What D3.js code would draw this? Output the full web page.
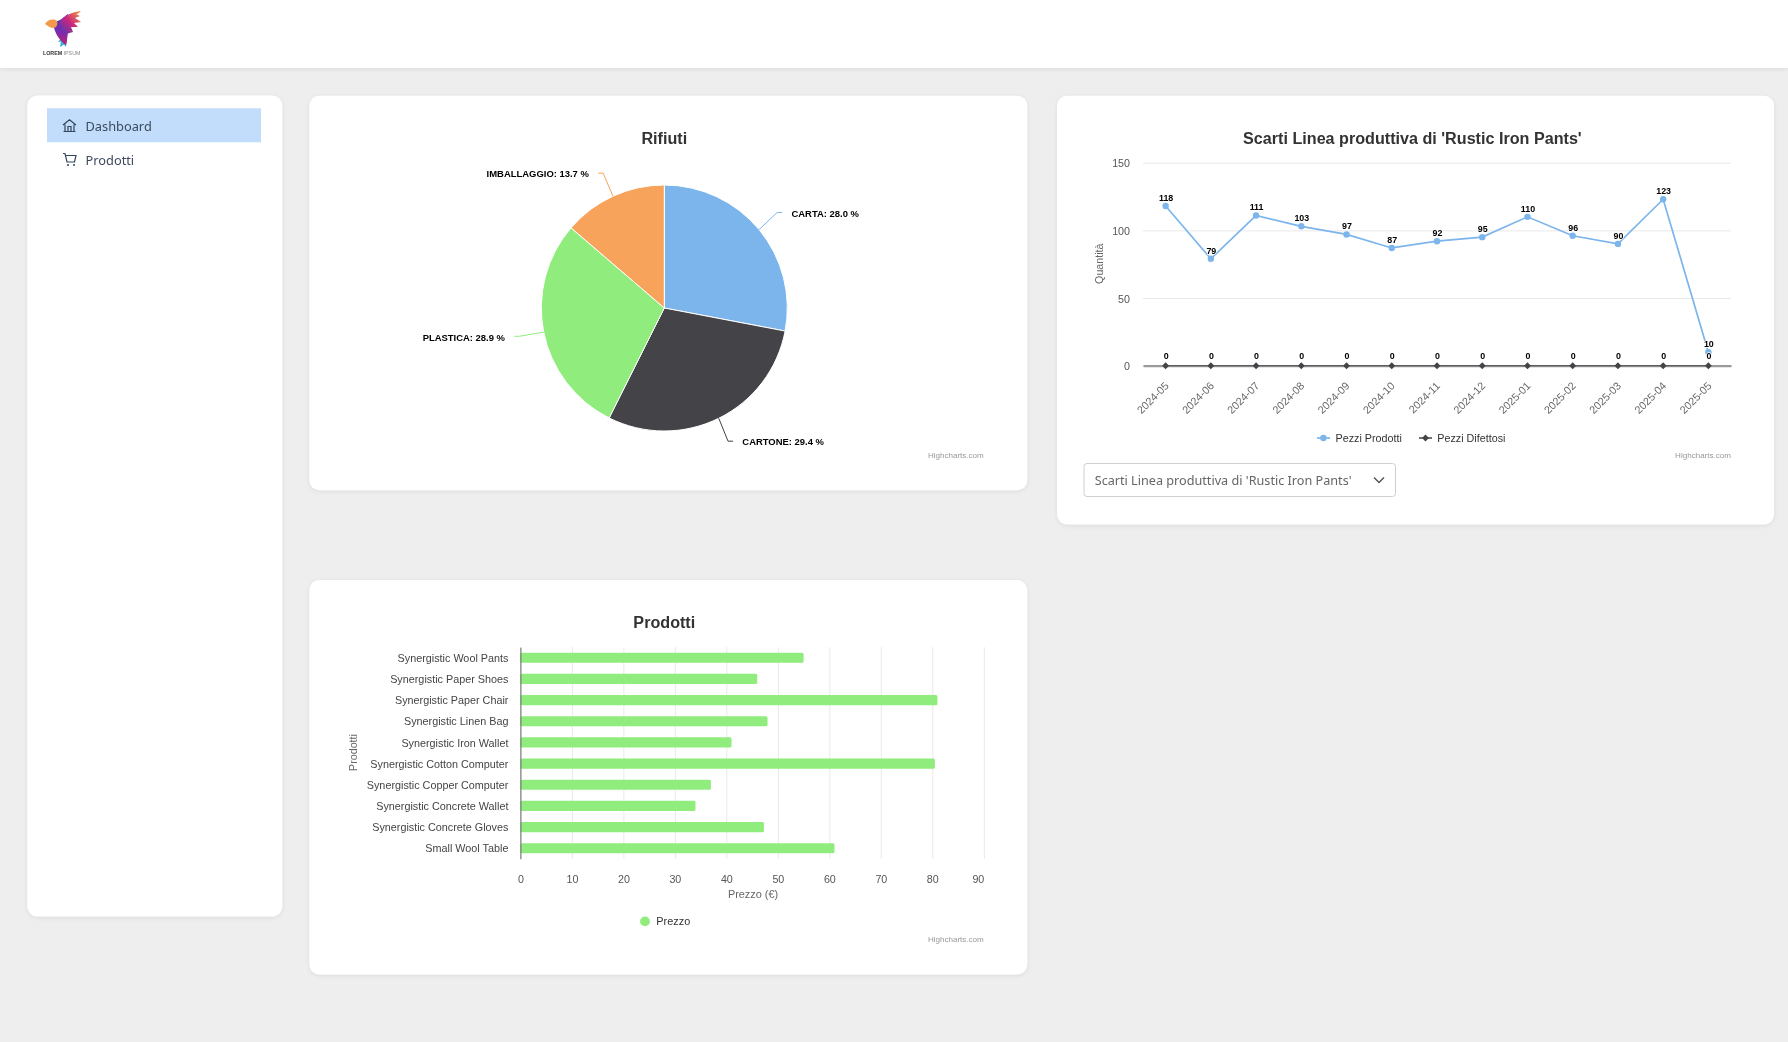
<!DOCTYPE html>
<html><head><meta charset="utf-8">
<script src="https://cdn.jsdelivr.net/npm/d3@7"></script>
<style>
html,body{margin:0;padding:0;background:#eeeeee;overflow:hidden}
svg{display:block;filter:blur(.35px)}
text{font-family:"Liberation Sans",Arial,sans-serif}
.ui{font-family:"Noto Sans",sans-serif}
</style></head><body>
<svg id="c" width="1788" height="1042"></svg>
<script>
// ---- data
const wasteCategories = ["CARTA","CARTONE","PLASTICA","IMBALLAGGIO"];
const wasteValues = [28.0,29.4,28.9,13.7];
const months = ["2024-05","2024-06","2024-07","2024-08","2024-09","2024-10","2024-11","2024-12","2025-01","2025-02","2025-03","2025-04","2025-05"];
const producedPieces = [118,79,111,103,97,87,92,95,110,96,90,123,10];
const defectivePieces = [0,0,0,0,0,0,0,0,0,0,0,0,0];
const quantityTicks = [0,50,100,150];
const products = ["Synergistic Wool Pants","Synergistic Paper Shoes","Synergistic Paper Chair","Synergistic Linen Bag","Synergistic Iron Wallet","Synergistic Cotton Computer","Synergistic Copper Computer","Synergistic Concrete Wallet","Synergistic Concrete Gloves","Small Wool Table"];
const prices = [55,46,81,48,41,80.5,37,34,47.3,61];
const priceTicks = [0,10,20,30,40,50,60,70,80,90];
const highchartsColors = ["#7cb5ec","#434348","#90ed7d","#f7a35c"];

const svg = d3.select("#c");
const defs = svg.append("defs");
const sh = defs.append("filter").attr("id","sh").attr("x","-5%").attr("y","-5%").attr("width","110%").attr("height","110%");
sh.append("feDropShadow").attr("dx",0).attr("dy",1).attr("stdDeviation",2).attr("flood-color","#000").attr("flood-opacity",.08);

function card(x,y,w,h){
  svg.append("rect").attr("x",x).attr("y",y).attr("width",w).attr("height",h).attr("rx",10).attr("fill","#fff").attr("filter","url(#sh)");
}
function credits(x,y){
  svg.append("text").attr("x",x).attr("y",y).attr("dy",".35em").attr("text-anchor","end").attr("font-size",8.05).attr("fill","#999").text("Highcharts.com");
}
function title(x,y,t){
  svg.append("text").attr("x",x).attr("y",y).attr("dy",".35em").attr("text-anchor","middle").attr("font-size",16.15).attr("font-weight","bold").attr("fill","#333").text(t);
}

// ---- page chrome
svg.append("rect").attr("width",1788).attr("height",68).attr("fill","#fff").attr("filter","url(#sh)");
const g1 = defs.append("linearGradient").attr("id","lg1").attr("x1",0).attr("y1",1).attr("x2",1).attr("y2",0);
g1.append("stop").attr("offset",0).attr("stop-color","#3a3fb8");
g1.append("stop").attr("offset",.5).attr("stop-color","#c9267f");
g1.append("stop").attr("offset",1).attr("stop-color","#f39a3c");
const g2 = defs.append("linearGradient").attr("id","lg2").attr("x1",0).attr("y1",0).attr("x2",0).attr("y2",1);
g2.append("stop").attr("offset",0).attr("stop-color","#4a35b8");
g2.append("stop").attr("offset",.6).attr("stop-color","#7b2bb0");
g2.append("stop").attr("offset",1).attr("stop-color","#c0206f");
const logo = svg.append("g");
logo.append("path").attr("fill","#2fb0dd").attr("d","M62,37 L58,42 L61,41.5 L60,47 L64,44.5 L66,47 L67,38 Z");
logo.append("path").attr("fill","url(#lg2)").attr("d","M54,21 C60,22 62,18 68,14 L68,33 C67,38 67,42 66,45 C61,42 56,35 54,28Z");
logo.append("path").attr("fill","url(#lg1)").attr("d","M59,23 C64,15 72,12 81,11 C79,13 78,14 76,14 L80,16 L75,18 L81,22 L74,23 L78,27 L71,27 L73,32 L66,34 Z");
logo.append("path").attr("fill","#f2994a").attr("d","M45,24 C47,20 53,18 57,21 C58,24 57,27 54,28 C50,28 48,26 45,24Z");
logo.append("text").attr("x",43).attr("y",55).attr("font-size",5.3).attr("fill","#333").attr("font-weight","bold").text("LOREM")
  .append("tspan").attr("font-weight","normal").attr("fill","#888").text(" IPSUM");

card(27.3,95.5,255,821);
svg.append("rect").attr("x",47).attr("y",108.3).attr("width",214).attr("height",34).attr("fill","#c2dcfb");
svg.append("text").attr("class","ui").attr("x",85.5).attr("y",126.5).attr("dy",".35em").attr("font-size",12.8).attr("fill","#3d4a5c").text("Dashboard");
svg.append("text").attr("class","ui").attr("x",85.5).attr("y",160.5).attr("dy",".35em").attr("font-size",12.8).attr("fill","#3d4a5c").text("Prodotti");
svg.append("path").attr("fill","none").attr("stroke","#33465c").attr("stroke-width",1.2)
  .attr("d","M63,125 L69.5,119.7 L76,125 M65,124.5 V131.5 H74 V124.5 M63.5,131.5 H75.5 M68,131.5 V126.5 H71 V131.5");
svg.append("path").attr("fill","none").attr("stroke","#33465c").attr("stroke-width",1.2)
  .attr("d","M63,153.5 H65 L67,162 H74.5 L76,155.5 H66");
svg.append("circle").attr("cx",68).attr("cy",165).attr("r",1).attr("fill","#33465c");
svg.append("circle").attr("cx",74).attr("cy",165).attr("r",1).attr("fill","#33465c");

// ---- pie
card(309.3,95.8,718,394.5);
title(664.3,138.6,"Rifiuti");
const pieC = [664.3,308], pieR = 123, labelDist = 30;
const labelNudgeX = [0,1,0,-2.3];
const labelNudgeY = [2,-4,-1.8,4.2];
const pieG = svg.append("g").attr("transform",`translate(${pieC})`);
const arcs = d3.pie().sort(null)(wasteValues);
const arcGen = d3.arc().innerRadius(0).outerRadius(pieR);
pieG.selectAll("path.s").data(arcs).join("path").attr("class","s").attr("d",arcGen)
  .attr("fill",(d,i)=>highchartsColors[i]).attr("stroke","#fff").attr("stroke-width",1);
arcs.forEach((a,i)=>{
  const m=(a.startAngle+a.endAngle)/2, s=Math.sin(m), c=-Math.cos(m), side=s>=0?1:-1;
  const ex=pieR*s, ey=pieR*c;
  const ax=(pieR+labelDist)*s+labelNudgeX[i], ay=(pieR+labelDist)*c+labelNudgeY[i];
  pieG.append("path").attr("fill","none").attr("stroke",highchartsColors[i]).attr("stroke-width",1)
    .attr("d",d3.line()([[ex,ey],[ax-side*5,ay],[ax,ay]]));
  pieG.append("text").attr("x",ax+side*9.3).attr("y",ay+1).attr("dy",".35em").attr("text-anchor",side>0?"start":"end")
    .attr("font-size",9.45).attr("font-weight","bold").attr("fill","#000")
    .text(`${wasteCategories[i]}: ${wasteValues[i].toFixed(1)} %`);
});
credits(983.8,455);

// ---- line
card(1057,95.8,717,428.7);
title(1412.4,138.7,"Scarti Linea produttiva di 'Rustic Iron Pants'");
const lx = d3.scalePoint().domain(months).range([1143,1731]).padding(.5);
const ly = d3.scaleLinear().domain([0,150]).range([365.7,162.7]);
const yAx = svg.append("g").attr("transform","translate(1143,0)")
  .call(d3.axisLeft(ly).tickValues(quantityTicks).tickSize(-588).tickPadding(13));
yAx.select(".domain").remove();
yAx.selectAll("line").attr("stroke","#e9e9e9");
yAx.selectAll("text").attr("font-size",10.7).attr("fill","#555").attr("font-family","Liberation Sans").attr("dy",".4em");
const xAx = svg.append("g").attr("transform","translate(0,365.7)")
  .call(d3.axisBottom(lx).tickSize(0));
xAx.select(".domain").attr("stroke","#9a9a9a").attr("stroke-width",2.2);
xAx.selectAll("text").attr("x",0).attr("y",0).attr("dy",0).attr("text-anchor","end")
  .attr("transform","translate(3.3,20.8) rotate(-45)")
  .attr("font-size",10.8).attr("fill","#666").attr("font-family","Liberation Sans");
svg.append("text").attr("transform","translate(1099.5,263.7) rotate(-90)").attr("dy",".35em").attr("text-anchor","middle")
  .attr("font-size",10.7).attr("fill","#666").text("Quantità");
const lineGen = vals => d3.line()(months.map((m,i)=>[lx(m),ly(vals[i])]));
svg.append("path").attr("d",lineGen(producedPieces)).attr("fill","none").attr("stroke",highchartsColors[0]).attr("stroke-width",1.7);
svg.append("path").attr("d",lineGen(defectivePieces)).attr("fill","none").attr("stroke","#434348").attr("stroke-width",1.2).attr("stroke-opacity",.7);
svg.selectAll("circle.p").data(producedPieces).join("circle").attr("class","p")
  .attr("cx",(d,i)=>lx(months[i])).attr("cy",d=>ly(d)).attr("r",3.2).attr("fill",highchartsColors[0]);
const diamond = d3.symbol().type(d3.symbolDiamond2).size(30);
svg.selectAll("path.d").data(defectivePieces).join("path").attr("class","d")
  .attr("d",diamond).attr("transform",(d,i)=>`translate(${lx(months[i])},${ly(d)})`).attr("fill","#434348");
function dataLabels(vals,off){
  svg.selectAll(null).data(vals).join("text")
    .attr("x",(d,i)=>lx(months[i])+.5).attr("y",d=>ly(d)-off).attr("dy",".35em").attr("text-anchor","middle")
    .attr("font-size",8.9).attr("font-weight","bold").attr("fill","#000")
    .attr("stroke","#fff").attr("stroke-width",1.4).attr("paint-order","stroke").text(d=>d);
}
dataLabels(producedPieces,8.3); dataLabels(defectivePieces,9.5);
// legend
svg.append("path").attr("d","M1317,438 H1330").attr("stroke",highchartsColors[0]).attr("stroke-width",1.7);
svg.append("circle").attr("cx",1323.4).attr("cy",438).attr("r",3.2).attr("fill",highchartsColors[0]);
svg.append("text").attr("x",1335.6).attr("y",437.8).attr("dy",".35em").attr("font-size",10.75).attr("fill","#333").text("Pezzi Prodotti");
svg.append("path").attr("d","M1419,438 H1432").attr("stroke","#434348").attr("stroke-width",1.5);
svg.append("path").attr("d",diamond).attr("transform","translate(1425.5,438)").attr("fill","#434348");
svg.append("text").attr("x",1437.3).attr("y",437.8).attr("dy",".35em").attr("font-size",10.75).attr("fill","#333").text("Pezzi Difettosi");
credits(1731,455);
// select
svg.append("rect").attr("x",1084).attr("y",463.5).attr("width",311.5).attr("height",33).attr("rx",3).attr("fill","#fff").attr("stroke","#cfcfcf");
svg.append("text").attr("class","ui").attr("x",1094.7).attr("y",481).attr("dy",".35em").attr("font-size",12.65).attr("fill","#666").text("Scarti Linea produttiva di 'Rustic Iron Pants'");
svg.append("path").attr("d","M1374,477.5 L1379,482.5 L1384,477.5").attr("fill","none").attr("stroke","#555").attr("stroke-width",1.5);

// ---- bars
card(309.3,580,718,394.5);
title(664.3,622.5,"Prodotti");
const bx = d3.scaleLinear().domain([0,90]).range([520.4,983.8]);
const by = d3.scaleBand().domain(products).range([647.2,858.8]).paddingInner(.52).paddingOuter(.26);
const bxAx = svg.append("g").attr("transform","translate(0,858.8)")
  .call(d3.axisBottom(bx).tickValues(priceTicks).tickSize(-211.6).tickPadding(16.2).tickFormat(d3.format("d")));
bxAx.select(".domain").remove();
bxAx.selectAll("line").attr("stroke","#e9e9e9");
bxAx.selectAll("text").attr("font-size",10.7).attr("fill","#555").attr("font-family","Liberation Sans");
bxAx.selectAll(".tick").filter(d=>d===90).select("text").attr("text-anchor","end");
svg.selectAll("rect.b").data(prices).join("rect").attr("class","b")
  .attr("x",bx(0)).attr("y",(d,i)=>by(products[i])).attr("width",d=>bx(d)-bx(0)).attr("height",by.bandwidth())
  .attr("rx",1.5).attr("fill",highchartsColors[2]);
const byAx = svg.append("g").attr("transform","translate(520.4,0)")
  .call(d3.axisLeft(by).tickSize(0).tickPadding(12));
byAx.select(".domain").attr("stroke","#666").attr("stroke-width",1);
byAx.selectAll("text").attr("font-size",10.8).attr("fill","#444").attr("font-family","Liberation Sans").attr("dy",".38em");
svg.append("text").attr("x",753).attr("y",894.6).attr("dy",".35em").attr("text-anchor","middle").attr("font-size",10.9).attr("fill","#666").text("Prezzo (€)");
svg.append("text").attr("transform","translate(352.9,752.5) rotate(-90)").attr("dy",".35em").attr("text-anchor","middle").attr("font-size",10.7).attr("fill","#666").text("Prodotti");
svg.append("circle").attr("cx",645).attr("cy",921.4).attr("r",4.9).attr("fill",highchartsColors[2]);
svg.append("text").attr("x",656.3).attr("y",921.6).attr("dy",".35em").attr("font-size",10.9).attr("fill","#333").text("Prezzo");
credits(983.8,939);
</script></body></html>
